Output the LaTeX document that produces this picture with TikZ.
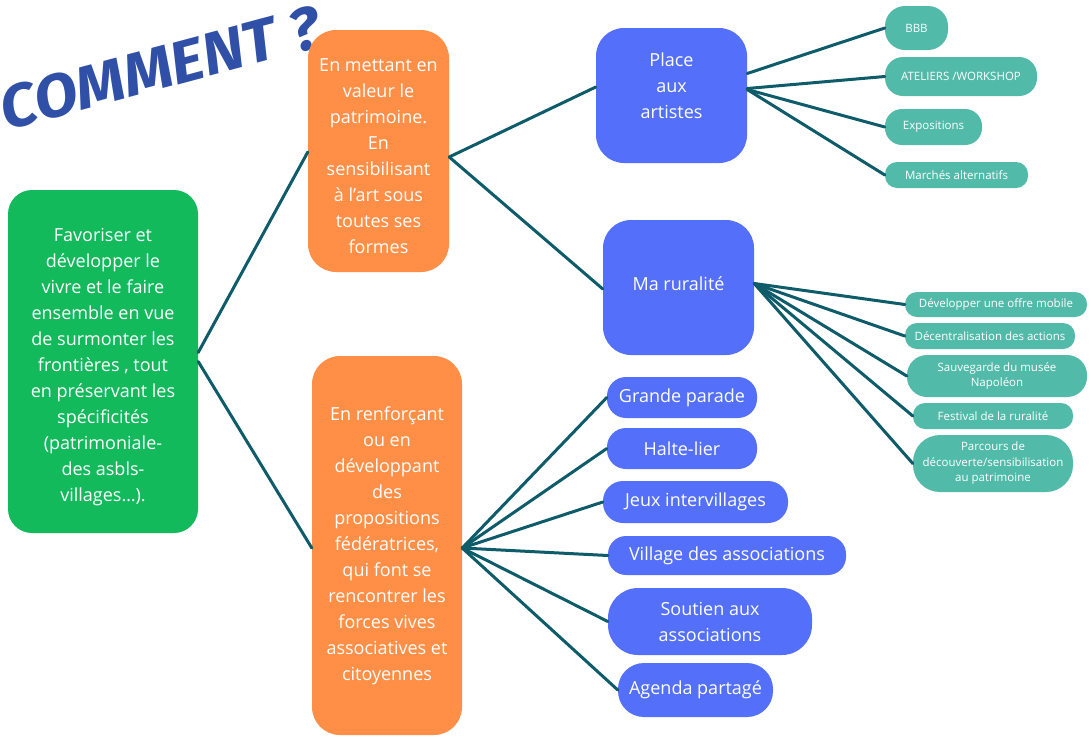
\documentclass[tikz,border=0pt]{standalone}
\usepackage{fontspec}
\setmainfont{Open Sans}
\newfontfamily\titlefont{Fira Sans}
\usetikzlibrary{calc}
\definecolor{cgreen}{HTML}{12BA5C}
\definecolor{corange}{HTML}{FF8E47}
\definecolor{cblue}{HTML}{5470FA}
\definecolor{cteal}{HTML}{52BAA9}
\definecolor{cline}{HTML}{0E5B6A}
\definecolor{ctitle}{HTML}{3050A8}
\begin{document}
\begin{tikzpicture}[x=1pt,y=-1pt,
  base/.style={rectangle, inner sep=0pt, text=white, align=center},
  big/.style={base, font=\fontsize{18}{26}\selectfont},
  gbox/.style={big, fill=cgreen},
  obox/.style={big, fill=corange},
  bbox/.style={big, fill=cblue},
  tbox/.style={base, fill=cteal, font=\fontsize{11.5}{15.5}\selectfont},
  txt/.style={text=white, align=center, inner sep=0pt, font=\fontsize{18}{26}\selectfont},
  conn/.style={draw=cline, line width=3pt, line cap=round},
  titlestyle/.style={text=ctitle, inner sep=0pt, font=\titlefont\bfseries\itshape\fontsize{60}{60}\selectfont}
]
\useasboundingbox (0,0) rectangle (1091,737);
\fill[white] (0,0) rectangle (1091,737);

% title
\node[titlestyle, rotate=15, xscale=1.06] (title) at (160,68) {COMMENT ?};

% main boxes
\node[gbox, minimum width=190, minimum height=343, rounded corners=24] (g) at (103,361.5) {};
\node[txt] (gtxt) at (103,367)
  {Favoriser et\\développer le\\vivre et le faire\\ensemble en vue\\de surmonter les\\frontières , tout\\en préservant les\\spécificités\\(patrimoniale-\\des asbls-\\villages…).};
\node[obox, minimum width=141, minimum height=242, rounded corners=28] (o1) at (378.5,151) {};
\node[txt] (o1txt) at (378.5,156.5)
  {En mettant en\\valeur le\\patrimoine.\\En\\sensibilisant\\à l’art sous\\toutes ses\\formes};
\node[obox, minimum width=150, minimum height=379, rounded corners=28] (o2) at (387,545.5)
  {En renforçant\\ou en\\développant\\des\\propositions\\fédératrices,\\qui font se\\rencontrer les\\forces vives\\associatives et\\citoyennes};

\node[bbox, minimum width=151, minimum height=135, rounded corners=28] (place) at (671.5,95.5) {};
\node[txt] (placetxt) at (671.5,86) {Place\\aux\\artistes};
\node[bbox, minimum width=151, minimum height=135, rounded corners=28] (rural) at (678.5,287.5) {};
\node[txt] (ruraltxt) at (678.5,283.5) {Ma ruralité};

% blue pills
\node[bbox, minimum width=150, minimum height=41, rounded corners=19] (gp) at (682,397.5) {Grande parade};
\node[bbox, minimum width=150, minimum height=41, rounded corners=19] (hl) at (682,448.5) {Halte-lier};
\node[bbox, minimum width=185, minimum height=42, rounded corners=20] (ji) at (695.5,502) {Jeux intervillages};
\node[bbox, minimum width=238, minimum height=39, rounded corners=18] (va) at (727,555.5) {Village des associations};
\node[bbox, minimum width=204, minimum height=67, rounded corners=30] (sa) at (710,621.5) {Soutien aux\\associations};
\node[bbox, minimum width=155, minimum height=54, rounded corners=26] (ap) at (695.5,690) {Agenda partagé};

% teal nodes (artistes)
\node[tbox, minimum width=63, minimum height=44, rounded corners=20] (bbb) at (916.5,28) {BBB};
\node[tbox, minimum width=152, minimum height=39, rounded corners=18] (ate) at (961,76.5) {ATELIERS /WORKSHOP};
\node[tbox, minimum width=97, minimum height=36, rounded corners=17] (expo) at (933.5,127) {Expositions};
\node[tbox, minimum width=143, minimum height=26, rounded corners=12] (marc) at (956.5,175) {Marchés alternatifs};

% teal nodes (ruralite)
\node[tbox, minimum width=182, minimum height=25, rounded corners=12] (dev) at (996,304.5) {Développer une offre mobile};
\node[tbox, minimum width=170, minimum height=26, rounded corners=12] (dec) at (990,336) {Décentralisation des actions};
\node[tbox, minimum width=180, minimum height=42, rounded corners=20] (sauv) at (997,376) {Sauvegarde du musée\\Napoléon};
\node[tbox, minimum width=160, minimum height=26, rounded corners=12] (fest) at (993,416) {Festival de la ruralité};
\node[tbox, minimum width=160, minimum height=57, rounded corners=27] (parc) at (993,463.5) {Parcours de\\découverte/sensibilisation\\au patrimoine};

% connectors
\draw[conn] ($(g.east)+(0,-9)$) -- ($(o1.west)+(0,1)$);
\draw[conn] (g.east) -- ($(o2.west)+(0,2.5)$);

\draw[conn] ($(o1.east)+(0,6)$) -- ($(place.west)+(0,-8.5)$);
\draw[conn] ($(o1.east)+(0,6)$) -- ($(rural.west)+(0,1.5)$);

\draw[conn] ($(place.east)+(0,-22)$) -- (bbb.west);
\draw[conn] ($(place.east)+(0,-7)$) -- (ate.west);
\draw[conn] ($(place.east)+(0,-6)$) -- (expo.west);
\draw[conn] ($(place.east)+(0,-6)$) -- (marc.west);

\draw[conn] ($(rural.east)+(0,-4)$) -- (dev.west);
\draw[conn] ($(rural.east)+(0,-4)$) -- (dec.west);
\draw[conn] ($(rural.east)+(0,-4)$) -- (sauv.west);
\draw[conn] ($(rural.east)+(0,-4)$) -- (fest.west);
\draw[conn] ($(rural.east)+(0,-4)$) -- (parc.west);

\draw[conn] ($(o2.east)+(0,2.5)$) -- (gp.west);
\draw[conn] ($(o2.east)+(0,2.5)$) -- (hl.west);
\draw[conn] ($(o2.east)+(0,2.5)$) -- (ji.west);
\draw[conn] ($(o2.east)+(0,2.5)$) -- (va.west);
\draw[conn] ($(o2.east)+(0,2.5)$) -- (sa.west);
\draw[conn] ($(o2.east)+(0,2.5)$) -- (ap.west);
\end{tikzpicture}
\end{document}
